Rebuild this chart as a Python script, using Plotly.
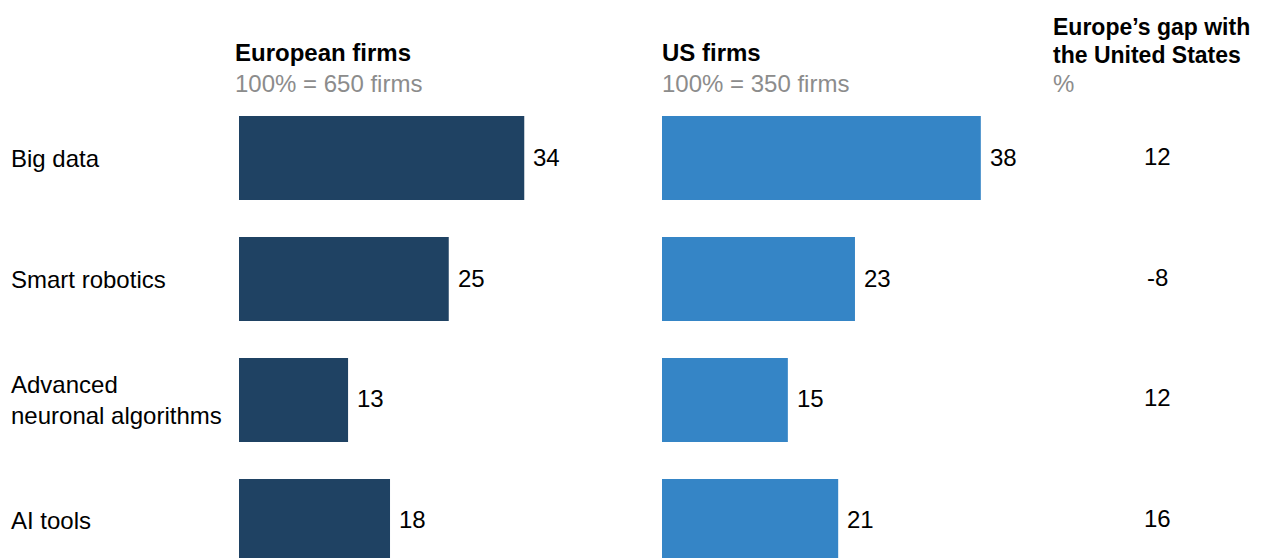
import plotly.graph_objects as go

categories = ["Big data", "Smart robotics", "Advanced<br>neuronal algorithms", "AI tools"]
europe = [34, 25, 13, 18]
us = [38, 23, 15, 21]
gap = [12, -8, 12, 16]

W, H = 1269, 558
FONT = "Liberation Sans, Arial, sans-serif"
FS = 24
EU_COLOR = "#1F4263"
US_COLOR = "#3585C6"
GRAY = "#8C8C8C"

px_per_unit = 8.39
xr = 45
eu_x0 = 239
us_x0 = 662

fig = go.Figure()
fig.add_trace(go.Bar(y=categories, x=europe, orientation="h", marker_color=EU_COLOR,
                     marker_line_width=0, width=0.694, xaxis="x", yaxis="y", hoverinfo="skip"))
fig.add_trace(go.Bar(y=categories, x=us, orientation="h", marker_color=US_COLOR,
                     marker_line_width=0, width=0.694, xaxis="x2", yaxis="y", hoverinfo="skip"))

ann = []
for c, v in zip(categories, europe):
    ann.append(dict(x=v, y=c, xref="x", yref="y", text=str(v), showarrow=False,
                    xanchor="left", xshift=7, yshift=1, yanchor="middle",
                    font=dict(size=FS, color="#000000", family=FONT)))
for c, v in zip(categories, us):
    ann.append(dict(x=v, y=c, xref="x2", yref="y", text=str(v), showarrow=False,
                    xanchor="left", xshift=7, yshift=1, yanchor="middle",
                    font=dict(size=FS, color="#000000", family=FONT)))
for c, g in zip(categories, gap):
    ann.append(dict(x=1157 / W, y=c, xref="paper", yref="y", text=str(g), showarrow=False,
                    xanchor="center", yanchor="middle", yshift=2,
                    font=dict(size=FS, color="#000000", family=FONT)))
for c in categories:
    ann.append(dict(x=9 / W, y=c, xref="paper", yref="y", text=c, showarrow=False,
                    xanchor="left", yanchor="middle", align="left",
                    font=dict(size=FS, color="#000000", family=FONT)))

def header(x, y, text, bold=True, color="#000000", size=FS):
    return dict(x=x / W, y=1 - y / H, xref="paper", yref="paper",
                text=f"<b>{text}</b>" if bold else text, showarrow=False,
                xanchor="left", yanchor="middle", align="left",
                font=dict(size=size, color=color, family=FONT))

ann += [
    header(233, 53, "European firms"),
    header(233, 83, "100% = 650 firms", bold=False, color=GRAY),
    header(660, 53, "US firms"),
    header(660, 83, "100% = 350 firms", bold=False, color=GRAY),
    header(1051, 27, "Europe’s gap with", size=23),
    header(1051, 55, "the United States", size=23),
    header(1051, 83, "%", bold=False, color=GRAY),
]

span = xr * px_per_unit
fig.update_layout(
    width=W, height=H,
    margin=dict(l=0, r=0, t=0, b=0),
    paper_bgcolor="white", plot_bgcolor="white",
    showlegend=False,
    xaxis=dict(domain=[eu_x0 / W, (eu_x0 + span) / W], range=[0, xr], visible=False, fixedrange=True),
    xaxis2=dict(domain=[us_x0 / W, (us_x0 + span) / W], range=[0, xr], visible=False,
                anchor="y", fixedrange=True),
    yaxis=dict(type="category", categoryorder="array", categoryarray=categories,
               range=[3.306, -1.306], visible=False, domain=[0, 1], fixedrange=True),
    annotations=ann,
    font=dict(family=FONT),
)

fig.write_html("out.html", config={"displayModeBar": False},
               post_script="document.body.style.margin='0px';document.body.style.overflow='hidden';")
